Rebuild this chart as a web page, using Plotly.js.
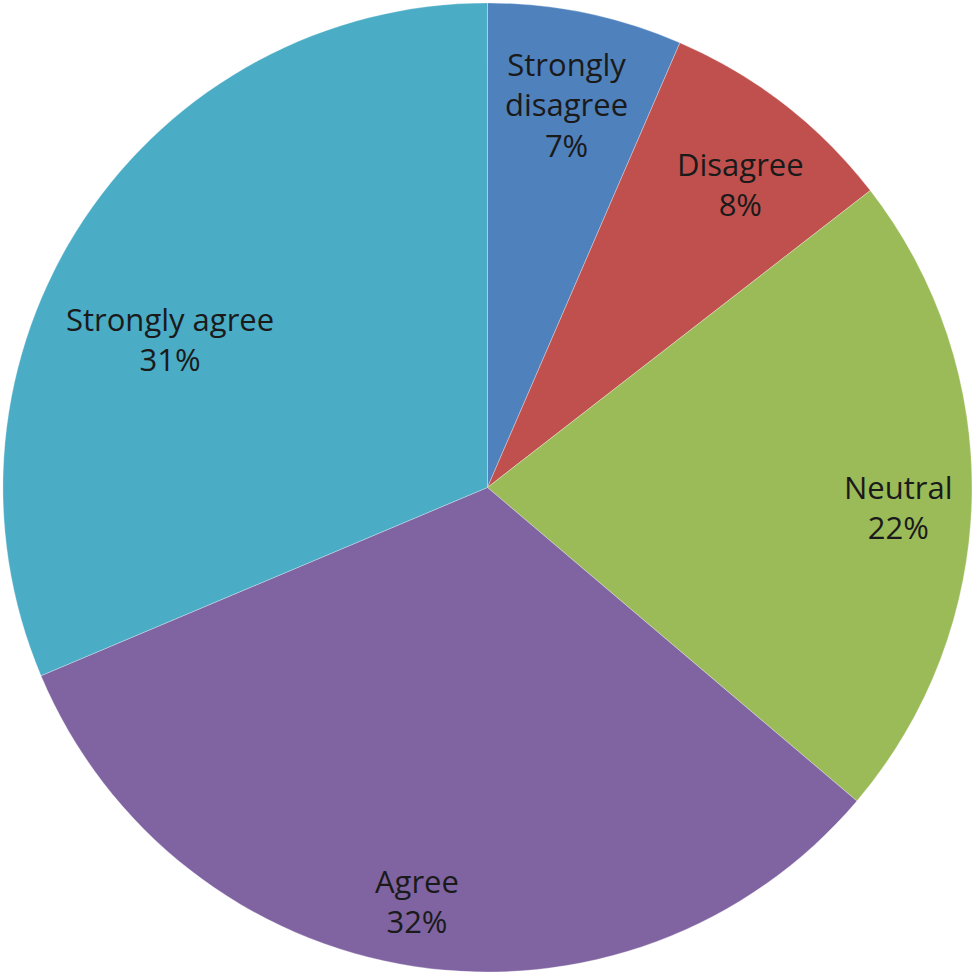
<!DOCTYPE html>
<html><head><meta charset="utf-8">
<script src="https://cdn.plot.ly/plotly-3.0.1.min.js"></script>
<style>html,body{margin:0;padding:0;background:#fff}</style>
</head><body>
<div id="chart" style="width:972px;height:972px"></div>
<script>
const categories = ["Strongly disagree", "Disagree", "Neutral", "Agree", "Strongly agree"];
const labelText = ["Strongly<br>disagree", "Disagree", "Neutral", "Agree", "Strongly agree"];
const values = [6.5, 8.0, 21.7, 32.45, 31.35];
const colors = ["#4F81BD", "#C0504D", "#9BBB59", "#8064A2", "#4BACC6"];

// label placement (style): radius fraction and angle nudge per slice
const labelRadius = [0.807, 0.815, 0.85, 0.865, 0.724];
const labelNudge = [0, 2, 1.5, 1, -8.5];

const dom = {x: [0.003, 1], y: [0, 0.997]};
const W = 972, H = 972;
const cx = (dom.x[0] + dom.x[1]) / 2, cy = (dom.y[0] + dom.y[1]) / 2;
const R = Math.min((dom.x[1] - dom.x[0]) * W, (dom.y[1] - dom.y[0]) * H) / 2;
const total = values.reduce((a, b) => a + b, 0);
const annotations = [];
let cum = 0;
values.forEach((v, i) => {
  const mid = (cum + v / 2) / total * 360 + labelNudge[i];
  cum += v;
  const a = mid * Math.PI / 180;
  const r = R * labelRadius[i];
  annotations.push({
    xref: "paper", yref: "paper",
    x: cx + r * Math.sin(a) / W,
    y: cy + r * Math.cos(a) / H,
    xanchor: "center", yanchor: "middle",
    text: labelText[i] + "<br>" + Math.round(v / total * 100) + "%",
    showarrow: false, align: "center",
    font: {family: "Open Sans", size: 31, color: "#1a1a1a"}
  });
});

Plotly.newPlot("chart", [{
  type: "pie",
  labels: categories,
  values: values,
  sort: false,
  direction: "clockwise",
  rotation: 0,
  marker: {colors: colors, line: {color: "rgba(255,255,255,0.5)", width: 0.6}},
  textinfo: "none",
  hoverinfo: "label+percent",
  domain: dom
}], {
  width: W, height: H,
  margin: {l: 0, r: 0, t: 0, b: 0},
  showlegend: false,
  paper_bgcolor: "#fff",
  annotations: annotations
}, {displayModeBar: false, staticPlot: true});
</script>
</body></html>
